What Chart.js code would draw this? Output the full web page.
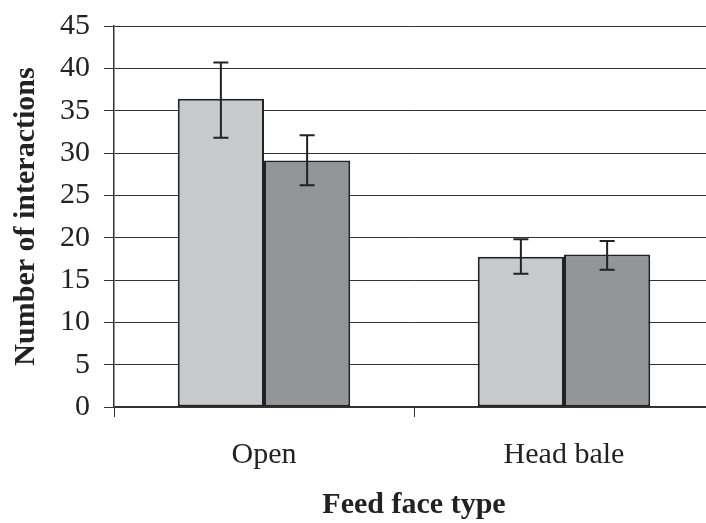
<!DOCTYPE html>
<html>
<head>
<meta charset="utf-8">
<script src="https://cdn.jsdelivr.net/npm/chart.js@4/dist/chart.umd.min.js"></script>
<style>
html,body{margin:0;padding:0;background:#fff;overflow:hidden;width:706px;height:523px;}
#wrap{width:714px;height:523px;}
</style>
</head>
<body>
<div id="wrap"><canvas id="c" width="714" height="523"></canvas></div>
<script>
const categories = ["Open", "Head bale"];
const seriesA = [36.4, 17.75];
const seriesAUpper = [40.7, 19.8];
const seriesALower = [31.8, 15.75];
const seriesB = [29.1, 18.0];
const seriesBUpper = [32.1, 19.6];
const seriesBLower = [26.2, 16.2];
const yTicks = [0, 5, 10, 15, 20, 25, 30, 35, 40, 45];

const errorBars = {
  id: 'errorBars',
  afterDatasetsDraw(chart) {
    const ctx = chart.ctx;
    const y = chart.scales.y;
    const bounds = [[seriesAUpper, seriesALower], [seriesBUpper, seriesBLower]];
    ctx.save();
    ctx.strokeStyle = '#222';
    ctx.lineWidth = 2;
    chart.data.datasets.forEach((ds, di) => {
      const meta = chart.getDatasetMeta(di);
      meta.data.forEach((bar, i) => {
        const x = bar.x;
        const yt = y.getPixelForValue(bounds[di][0][i]);
        const yb = y.getPixelForValue(bounds[di][1][i]);
        const hw = 7.5;
        ctx.beginPath();
        ctx.moveTo(x, yt); ctx.lineTo(x, yb);
        ctx.moveTo(x - hw, yt); ctx.lineTo(x + hw, yt);
        ctx.moveTo(x - hw, yb); ctx.lineTo(x + hw, yb);
        ctx.stroke();
      });
    });
    ctx.restore();
  }
};

new Chart(document.getElementById('c'), {
  type: 'bar',
  data: {
    labels: categories,
    datasets: [
      { data: seriesA, backgroundColor: '#c8c9cb', borderColor: '#222', borderWidth: 2, borderSkipped: false },
      { data: seriesB, backgroundColor: '#949599', borderColor: '#222', borderWidth: 2, borderSkipped: false }
    ]
  },
  options: {
    responsive: false,
    animation: false,
    devicePixelRatio: 1,
    layout: { padding: { top: 26, right: 0, bottom: 0, left: 0 } },
    plugins: { legend: { display: false }, tooltip: { enabled: false } },
    datasets: { bar: { barPercentage: 1, categoryPercentage: 0.575 } },
    scales: {
      x: {
        grid: { drawOnChartArea: false, drawTicks: true, tickLength: 10, color: '#333', lineWidth: 1, offset: true },
        border: { color: '#333', width: 1.5 },
        ticks: { color: '#222', font: { family: 'Liberation Serif', size: 30 }, padding: 20 },
        title: { display: true, text: 'Feed face type', color: '#222', font: { family: 'Liberation Serif', size: 30, weight: 'bold' }, padding: 0 },
        afterFit(s) { s.height = 116; s.paddingLeft = 0; s.paddingRight = 0; }
      },
      y: {
        min: 0, max: 45,
        afterBuildTicks(s) { s.ticks = yTicks.map(v => ({ value: v })); },
        grid: { color: '#333', lineWidth: 1, tickLength: 10 },
        border: { color: '#333', width: 1.5 },
        ticks: { color: '#222', font: { family: 'Liberation Serif', size: 30 }, padding: 14 },
        title: { display: true, text: 'Number of interactions', color: '#222', font: { family: 'Liberation Serif', size: 30, weight: 'bold' }, padding: { top: 8, bottom: 0 } },
        afterFit(s) { s.width = 114; s.paddingTop = 0; s.paddingBottom = 0; }
      }
    }
  },
  plugins: [errorBars]
});
</script>
</body>
</html>
